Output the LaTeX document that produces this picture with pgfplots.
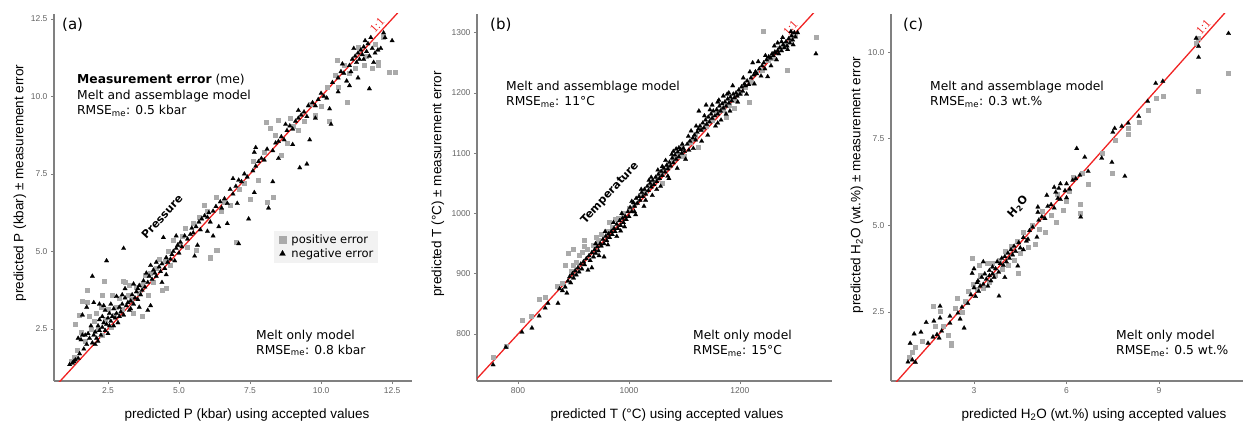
\documentclass[border=0pt]{standalone}
\usepackage{fontspec}
\setmainfont{DejaVu Sans}
\newfontfamily\arial{Liberation Sans}
\newfontfamily\serifr{Liberation Serif}
\usepackage{pgfplots}
\pgfplotsset{compat=1.18}
\definecolor{axgray}{RGB}{128,128,128}
\definecolor{tickgray}{RGB}{100,100,100}
\definecolor{sqgray}{RGB}{170,170,170}
\definecolor{linered}{RGB}{240,35,35}
\definecolor{legbg}{RGB}{242,242,242}
\newcommand\fs[1]{\fontsize{#1}{#1}\selectfont}
\tikzset{onelab/.style={font=\serifr\fs{12}, text=linered, anchor=south, inner sep=2.6pt}}
\pgfplotsset{
 base/.style={
  scale only axis, anchor=south west, height=367pt,
  axis x line*=bottom, axis y line*=left,
  axis line style={draw=axgray,line width=1.1pt},
  tick align=outside, major tick length=3pt,
  every tick/.style={draw=axgray,line width=0.7pt},
  tick label style={font=\arial\fs{8.5}, text=tickgray},
  /pgf/number format/assume math mode=true,
  /pgf/number format/1000 sep={},
  minor tick num=0,
 },
 sq/.style={only marks, mark=square*, mark size=2.0pt, color=sqgray, line width=0.3pt},
 tri/.style={only marks, mark=triangle*, mark size=2.6pt, color=black, line width=0.2pt},
 oneone/.style={no marks, draw=linered, line width=1.3pt, forget plot},
}
\begin{document}
\begin{tikzpicture}
\useasboundingbox (0,0) rectangle (1245pt,426pt);
% ---------------- (a) ----------------
\begin{axis}[base, at={(54pt,45pt)}, width=358pt,
  xmin=0.6, xmax=13.2, ymin=0.82, ymax=12.66,
  xtick={2.5,5,7.5,10,12.5}, ytick={2.5,5,7.5,10,12.5},
  xticklabel style={/pgf/number format/.cd,fixed,fixed zerofill,precision=1},
  yticklabel style={/pgf/number format/.cd,fixed,fixed zerofill,precision=1},
  legend style={at={(0.615,0.322)}, anchor=south west, fill=legbg, draw=none,
    font=\fs{11.5}, inner xsep=3pt, inner ysep=2pt, row sep=0pt, nodes={inner sep=1.8pt}},
  legend cell align=left,
  legend image code/.code={\path (-5pt,0pt) (7pt,0pt); \draw[#1,mark size=3.4pt] plot coordinates {(0pt,0pt)};},
]
\addplot[oneone] coordinates {(0.6,0.6) (13.2,13.2)};
\addplot[sq] coordinates {
(1.2,1.45)(1.3,1.6)(1.4,1.8)(1.35,2.65)(1.5,2.95)(1.55,2.4)(1.6,3.4)(1.75,3.75)(1.75,3.35)(1.7,2.1)
(1.85,2.9)(1.9,2.5)(2.0,2.75)(2.1,3.0)(2.15,2.5)(2.25,3.2)(2.3,2.3)(2.35,4.05)(2.3,3.6)(2.4,2.8)
(2.5,3.15)(2.6,2.55)(2.65,3.6)(2.7,2.95)(2.8,3.2)(2.9,3.5)(3.0,3.15)(3.05,4.05)(3.1,4.0)(3.2,3.6)
(3.3,3.45)(3.4,3.0)(3.5,3.85)(3.6,3.65)(3.7,3.9)(3.8,4.25)(3.9,3.6)(4.0,4.3)(4.1,4.0)(4.2,4.45)
(4.3,4.75)(4.4,3.75)(4.5,4.7)(4.6,5.0)(4.7,4.55)(4.8,5.35)(5.0,5.25)(5.1,5.5)(5.2,5.75)(5.3,5.15)
(5.5,5.9)(5.6,5.05)(5.7,6.1)(5.9,6.5)(6.0,6.3)(6.1,4.8)(6.3,5.05)(6.3,6.75)(6.5,6.3)(6.6,6.6)
(6.8,6.5)(7.0,5.3)(7.1,7.0)(7.3,7.2)(7.5,6.7)(7.6,7.9)(7.8,7.3)(8.0,8.2)(8.3,6.75)(8.1,6.6)
(8.4,8.75)(8.6,8.1)(8.8,8.5)(8.9,9.3)(9.0,9.05)(9.2,8.9)(9.4,9.2)(9.6,9.75)(9.8,9.4)(10.0,9.7)
(10.2,10.3)(10.3,9.2)(10.5,10.7)(10.6,10.3)(10.8,11.0)(11.0,10.75)(11.2,10.9)(11.3,11.6)(11.5,11.0)(11.6,11.3)
(11.8,10.9)(12.0,11.0)(12.2,11.9)(12.4,10.8)(12.6,10.8)(11.9,11.7)(3.25,3.9)(4.55,3.8)(3.7,2.9)
(8.06,9.18)(8.2,8.98)(8.5,9.24)(10.56,11.18)(10.9,9.82)(12.0,11.1)(6.33,5.05)(6.09,4.79)
};
\addlegendentry{positive error}
\addplot[tri] coordinates {
(1.15,1.35)(1.25,1.4)(1.35,1.5)(1.3,1.45)(1.45,1.55)(1.5,1.7)(1.55,2.15)(1.45,2.2)(1.6,2.3)(1.7,2.3)
(1.65,1.85)(1.75,2.0)(1.8,2.35)(1.6,2.95)(1.9,2.6)(1.85,2.2)(1.95,2.05)(2.0,2.3)(1.75,3.2)
(2.05,2.4)(2.1,2.2)(2.15,2.6)(2.2,2.45)(2.2,2.8)(2.25,2.3)(2.3,2.55)(2.3,2.9)(2.35,2.7)(2.4,2.45)
(2.4,3.1)(2.45,2.65)(2.5,2.85)(2.5,2.35)(2.55,2.6)(2.55,3.0)(2.6,2.75)(2.6,3.3)(2.65,2.9)(2.7,2.6)
(2.7,3.15)(2.75,2.85)(2.8,3.0)(2.85,2.7)(2.9,3.2)(2.9,2.9)(2.95,3.05)(2.2,3.3)(2.35,3.25)(2.0,3.35)
(1.95,4.2)(2.45,4.7)(3.05,5.1)(2.05,2.0)(2.15,2.1)
(3.0,3.3)(3.05,2.95)(3.1,3.5)(3.15,3.25)(3.2,3.35)(3.25,3.1)(3.3,3.4)(3.35,3.6)(3.4,3.3)(3.45,3.5)
(3.5,3.7)(3.55,3.45)(3.6,3.9)(3.65,3.6)(3.7,3.75)(3.75,4.05)(3.8,3.85)(3.85,4.3)(3.9,4.0)(3.95,4.2)
(3.1,3.8)(3.4,3.95)(3.3,3.15)(3.6,3.2)(3.9,3.1)(4.0,3.25)(3.55,3.8)(2.8,3.55)(3.0,3.6)
(4.05,4.1)(4.1,4.4)(4.15,4.3)(4.2,4.2)(4.3,4.5)(4.35,4.35)(4.4,4.6)(4.5,4.45)(4.55,4.8)(4.6,4.65)
(4.7,4.75)(4.75,4.9)(4.8,5.0)(4.85,4.7)(4.9,5.1)(4.95,5.2)(5.0,4.95)(4.45,5.45)(4.4,4.0)(4.2,4.65)
(4.55,4.25)(4.0,4.55)(4.9,5.5)
(5.05,5.3)(5.1,5.15)(5.2,5.5)(5.3,5.4)(5.4,5.55)(5.45,5.75)(5.5,5.6)(5.6,5.8)(5.7,5.95)(5.75,5.7)
(5.8,6.05)(5.9,6.15)(6.0,6.1)(6.05,6.25)(6.1,5.95)(6.2,6.3)(6.3,6.45)(5.55,4.85)(6.2,5.5)(6.4,5.8)
(6.7,5.9)(5.65,5.2)(6.45,6.6)(6.0,5.65)
(6.5,6.4)(6.6,6.7)(6.7,6.55)(6.8,7.0)(6.9,6.85)(7.0,7.1)(7.1,7.3)(7.05,6.55)(7.2,7.25)(7.3,7.5)
(7.4,7.4)(7.45,6.05)(7.1,5.25)(7.6,7.6)(7.65,6.9)(7.7,7.75)(7.8,7.9)(7.9,8.0)(8.0,7.95)(8.1,8.3)
(8.15,6.4)(8.3,7.25)(8.3,8.25)(8.4,8.5)(8.5,8.55)(7.7,8.35)(7.65,8.2)(6.9,7.35)
(8.6,8.7)(8.7,8.6)(8.8,8.9)(8.9,9.05)(9.0,8.95)(9.1,9.2)(9.2,9.3)(9.0,8.45)(9.25,7.7)(9.5,7.82)
(9.3,9.4)(9.4,9.5)(9.5,9.35)(9.55,9.7)(9.6,8.6)(9.7,9.8)(9.8,9.7)(9.9,9.9)(10.0,10.1)(10.1,10.0)
(10.2,9.95)(10.3,9.6)(10.35,9.1)(10.4,10.45)(9.2,9.55)(8.75,9.1)(8.5,8.0)(9.8,9.3)
(10.6,10.6)(10.7,10.8)(10.8,10.75)(10.9,10.5)(11.0,11.0)(11.05,10.8)(11.1,11.2)(11.2,11.3)(11.25,11.1)(11.3,11.4)
(11.35,11.2)(11.4,11.5)(11.45,11.35)(11.5,11.6)(11.5,11.2)(11.55,11.8)(11.6,11.45)(11.65,11.7)(11.7,11.3)(11.75,11.9)
(11.8,11.55)(11.85,11.1)(11.9,11.4)(12.0,11.5)(12.1,11.55)(12.2,12.05)(12.25,11.9)(12.5,11.8)(11.7,10.25)(11.3,10.6)
(11.15,11.55)(10.75,11.05)(11.0,10.35)(10.6,10.15)
};
\addlegendentry{negative error}
\node[onelab, rotate=47.5] at (axis cs:12.15,12.15) {1:1};
\end{axis}
% ---------------- (b) ----------------
\begin{axis}[base, at={(477pt,45pt)}, width=355pt,
  xmin=726, xmax=1366, ymin=722, ymax=1331,
  xtick={800,1000,1200}, ytick={800,900,1000,1100,1200,1300},
]
\addplot[oneone] coordinates {(700,700) (1400,1400)};
\addplot[sq] coordinates {
(755,762)(778,780)(807,823)(823,830)(838,858)(849,861)(870,880)(880,885)(890,934)(899,915)
(910,931)(895,905)(905,920)(915,935)(920,945)(925,940)(935,948)(940,960)(945,955)(950,965)
(960,970)(965,985)(970,978)(975,990)(980,993)(990,1000)(1000,1008)(1010,1015)(1020,1030)(1030,1035)
(1040,1050)(1050,1058)(1060,1068)(1070,1078)(1080,1090)(1090,1095)(1095,1110)(1110,1118)(1120,1128)(1130,1140)
(1140,1145)(1150,1155)(1160,1170)(1170,1172)(1180,1180)(1190,1188)(1200,1200)(1210,1210)(1216,1185)(1220,1218)
(1230,1235)(1240,1238)(1241,1303)(1250,1255)(1260,1258)(1270,1275)(1280,1280)(1285,1237)(1290,1290)(1300,1298)
(1337,1292)(1125,1110)(1100,1095)(1175,1160)(1190,1175)(1060,1050)(885,915)(900,940)(920,955)
};
\addplot[tri] coordinates {
(755,749)(778,778)(807,803)(825,810)(838,830)(849,843)(854,851)(872,851)(875,875)(880,872)
(885,878)(888,868)(890,888)(893,895)(895,885)(898,900)(900,893)(903,905)(905,898)(908,910)
(910,903)(913,916)(915,908)(918,920)(920,915)(923,925)(926,906)(928,930)(930,922)(933,910)
(933,935)(936,928)(938,940)(940,934)(943,945)(945,938)(948,950)(950,946)(953,957)(955,928)
(955,950)(958,962)(960,955)(963,966)(965,960)(968,970)(970,965)(973,975)(975,970)(978,982)
(980,975)(983,988)(985,971)(985,980)(988,992)(990,985)(993,995)(995,990)(998,1003)(1000,995)
(1002,1010)(1005,1003)(1008,1018)(1010,1012)(1013,1025)(1015,1017)(1018,1028)(1020,1022)(1023,1035)(1025,1028)
(1028,1040)(1030,1032)(1033,1045)(1035,1038)(1038,1050)(1040,1044)(1043,1055)(1045,1048)(1048,1060)(1050,1053)
(1053,1065)(1055,1058)(1058,1070)(1060,1063)(1063,1075)(1065,1069)(1068,1080)(1070,1074)(1073,1085)(1075,1079)
(1078,1092)(1080,1084)(1083,1097)(1085,1090)(1088,1102)(1090,1094)(1093,1106)(1095,1100)(1098,1108)(1100,1103)
(1010,1003)(1030,1022)(1050,1040)(1070,1062)(1085,1107)(1090,1109)(1080,1103)(1060,1078)(1040,1060)
(1105,1115)(1108,1105)(1110,1120)(1112,1137)(1115,1125)(1118,1130)(1120,1122)(1123,1135)(1126,1170)(1125,1140)
(1128,1145)(1130,1138)(1133,1150)(1135,1142)(1138,1155)(1139,1180)(1140,1148)(1143,1160)(1145,1152)(1148,1165)
(1150,1158)(1152,1170)(1155,1162)(1158,1172)(1160,1165)(1163,1178)(1165,1170)(1168,1182)(1170,1175)(1173,1185)
(1175,1178)(1178,1190)(1180,1183)(1183,1193)(1185,1187)(1188,1198)(1190,1192)(1193,1200)(1195,1195)(1198,1205)
(1200,1198)(1150,1180)(1160,1185)(1170,1195)(1180,1200)(1160,1150)(1175,1165)
(1203,1210)(1205,1203)(1208,1215)(1210,1212)(1213,1220)(1216,1214)(1220,1225)(1223,1250)(1225,1230)(1228,1235)
(1230,1232)(1235,1240)(1240,1245)(1243,1250)(1245,1240)(1248,1255)(1250,1227)(1252,1260)(1255,1258)(1258,1265)
(1260,1262)(1263,1268)(1265,1266)(1268,1270)(1270,1265)(1272,1275)(1275,1270)(1278,1280)(1280,1275)(1283,1285)
(1285,1278)(1288,1290)(1290,1283)(1293,1295)(1295,1288)(1298,1300)(1300,1293)(1304,1300)(1337,1265)(1268,1283)(1275,1285)
(1005,1020)(1012,998)(1022,1040)(1027,1012)(1036,1055)(1042,1030)(1052,1072)(1057,1045)(1066,1088)(1072,1058)
(1077,1098)(1087,1075)(1096,1115)(1102,1090)(1107,1128)(1116,1108)(1121,1145)(1131,1120)(1136,1162)(1142,1130)
(1146,1172)(1156,1145)(1162,1188)(1166,1155)(1177,1198)(1182,1170)(1187,1212)(1196,1185)(1206,1225)(1212,1198)
(1218,1235)(1226,1215)(1233,1252)(1238,1228)(1246,1262)(1256,1245)(1262,1278)(1266,1255)(1277,1292)(1286,1272)
(1292,1302)(1296,1280)(940,950)(946,930)(957,970)(962,948)(972,985)(978,962)(987,1000)(992,978)
};
\node[onelab, rotate=47.3] at (axis cs:1300,1300) {1:1};
\end{axis}
% ---------------- (c) ----------------
\begin{axis}[base, at={(891pt,45pt)}, width=352pt,
  xmin=0.31, xmax=11.72, ymin=0.51, ymax=11.1,
  xtick={3,6,9}, ytick={2.5,5,7.5,10},
  yticklabel style={/pgf/number format/.cd,fixed,fixed zerofill,precision=1},
]
\addplot[oneone] coordinates {(0,0) (12,12)};
\addplot[sq] coordinates {
(0.9,1.2)(1.0,1.35)(1.1,1.5)(1.32,1.66)(1.67,2.67)(1.9,2.53)(1.75,2.1)(2.0,2.1)(2.16,1.84)(2.26,1.6)
(2.26,1.55)(2.45,2.9)(2.4,2.6)(2.6,2.5)(2.7,2.8)(2.8,3.1)(2.94,4.06)(2.97,3.3)(3.1,3.15)(3.16,3.85)
(3.2,3.55)(3.3,3.2)(3.42,3.91)(3.5,3.35)(3.6,3.9)(3.7,3.55)(3.8,4.0)(3.9,3.75)(4.0,4.25)(4.1,3.85)
(4.2,4.4)(4.3,4.0)(4.42,3.62)(4.4,4.55)(4.5,4.2)(4.6,4.8)(4.75,4.37)(4.97,4.46)(4.9,5.0)(5.1,4.9)
(5.2,5.4)(5.3,4.8)(5.5,5.3)(5.65,5.09)(5.88,5.44)(5.7,5.9)(6.0,5.7)(6.2,6.4)(6.43,5.6)(6.43,5.35)
(6.5,6.5)(6.7,6.19)(7.14,7.08)(7.47,6.5)(7.56,7.46)(8.0,7.8)(8.0,7.63)(8.34,7.98)(8.63,8.32)(8.89,8.67)
(9.12,8.72)(10.2,10.25)(10.28,8.87)(11.25,9.39)(10.25,10.4)(6.1,6.0)
};
\addplot[tri] coordinates {
(0.86,1.06)(1.0,1.12)(1.1,1.05)(0.93,1.6)(1.06,1.87)(1.28,1.92)(1.45,2.2)(1.7,2.24)(1.9,2.67)(1.9,2.33)
(1.87,1.75)(1.67,1.78)(1.51,1.6)(1.8,1.85)(1.95,1.95)(2.22,2.38)(2.22,2.18)(2.48,2.47)(2.68,2.04)(2.61,2.64)
(2.55,2.3)(2.8,2.75)(2.9,3.0)(2.94,3.62)(3.0,3.2)(3.05,2.95)(3.1,3.35)(3.13,3.4)(3.15,3.1)(3.2,3.25)
(3.25,3.5)(3.3,3.3)(3.35,3.6)(3.4,3.45)(3.45,3.25)(3.5,3.7)(3.5,3.55)(3.55,3.4)(3.6,3.8)(3.6,3.6)
(3.65,3.5)(3.7,3.75)(3.75,3.95)(3.8,3.65)(3.81,2.96)(3.85,3.9)(3.9,4.05)(3.95,3.85)(4.0,4.1)(4.05,3.95)
(4.1,4.2)(4.15,4.05)(4.2,4.3)(4.25,4.15)(4.3,4.4)(4.35,4.25)(4.42,3.83)(4.45,4.5)(4.5,4.35)(4.6,4.65)
(4.7,4.55)(4.75,4.6)(4.8,4.85)(4.9,4.95)(5.04,4.66)(5.07,5.38)(5.1,5.15)(5.2,5.25)(5.3,5.2)(5.39,5.55)
(5.36,5.87)(5.5,5.6)(5.6,5.5)(5.72,5.78)(5.8,5.75)(5.95,6.0)(6.0,5.8)(6.1,6.05)(6.2,6.3)(6.3,6.35)
(6.33,7.22)(6.46,5.24)(6.43,6.45)(6.59,6.97)(6.7,6.56)(7.14,6.94)(7.47,6.82)(7.89,6.42)(7.5,7.69)(7.56,7.8)
(7.79,7.86)(8.0,7.95)(8.34,8.15)(8.63,8.58)(8.89,9.1)(9.12,9.16)(10.2,10.4)(10.28,10.17)(10.28,9.85)(11.25,10.54)
(3.3,3.95)(3.0,3.75)(4.6,4.3)(4.0,3.5)(5.8,6.2)(5.6,6.1)(6.0,6.2)(5.07,5.53)(5.65,5.96)(5.75,6.07)
};
\node[onelab, rotate=48] at (axis cs:10.6,10.6) {1:1};
\end{axis}
% ---------------- axis labels ----------------
\begin{scope}[every node/.style={font=\arial\fs{13.5}, inner sep=0pt}]
\node[rotate=90] at (20pt,243pt) {predicted P (kbar) ± measurement error};
\node at (247pt,11pt) {predicted P (kbar) using accepted values};
\node[rotate=90] at (438pt,242pt) {predicted T (°C) ± measurement error};
\node at (667pt,11pt) {predicted T (°C) using accepted values};
\node[rotate=90] at (857pt,241pt) {predicted H\textsubscript{2}O (wt.\%) ± measurement error};
\node at (1094pt,11pt) {predicted H\textsubscript{2}O (wt.\%) using accepted values};
\end{scope}
% ---------------- annotations ----------------
\begin{scope}[every node/.style={font=\fs{12.3}, inner sep=0pt, anchor=base west}]
\node[font=\fs{15}, anchor=west] at (62pt,401pt) {(a)};
\node at (77pt,342pt) {\textbf{Measurement error} (me)};
\node at (77pt,326.5pt) {Melt and assemblage model};
\node at (77pt,311pt) {RMSE\textsubscript{me}: 0.5 kbar};
\node at (256pt,87pt) {Melt only model};
\node at (256pt,72pt) {RMSE\textsubscript{me}: 0.8 kbar};
\node[font=\bfseries\fs{11}, anchor=center, rotate=47.5] at (162pt,209pt) {Pressure};
\node[font=\fs{15}, anchor=west] at (490pt,401pt) {(b)};
\node at (506pt,335pt) {Melt and assemblage model};
\node at (506pt,320pt) {RMSE\textsubscript{me}: 11°C};
\node at (693pt,86pt) {Melt only model};
\node at (693pt,71pt) {RMSE\textsubscript{me}: 15°C};
\node[font=\bfseries\fs{11}, anchor=center, rotate=47.3] at (610pt,233pt) {Temperature};
\node[font=\fs{15}, anchor=west] at (903pt,401pt) {(c)};
\node at (930pt,335pt) {Melt and assemblage model};
\node at (930pt,320pt) {RMSE\textsubscript{me}: 0.3 wt.\%};
\node at (1116pt,86pt) {Melt only model};
\node at (1116pt,71pt) {RMSE\textsubscript{me}: 0.5 wt.\%};
\node[font=\bfseries\fs{11}, anchor=center, rotate=48] at (1018pt,219pt) {H\textsubscript{2}O};
\end{scope}
\end{tikzpicture}
\end{document}
